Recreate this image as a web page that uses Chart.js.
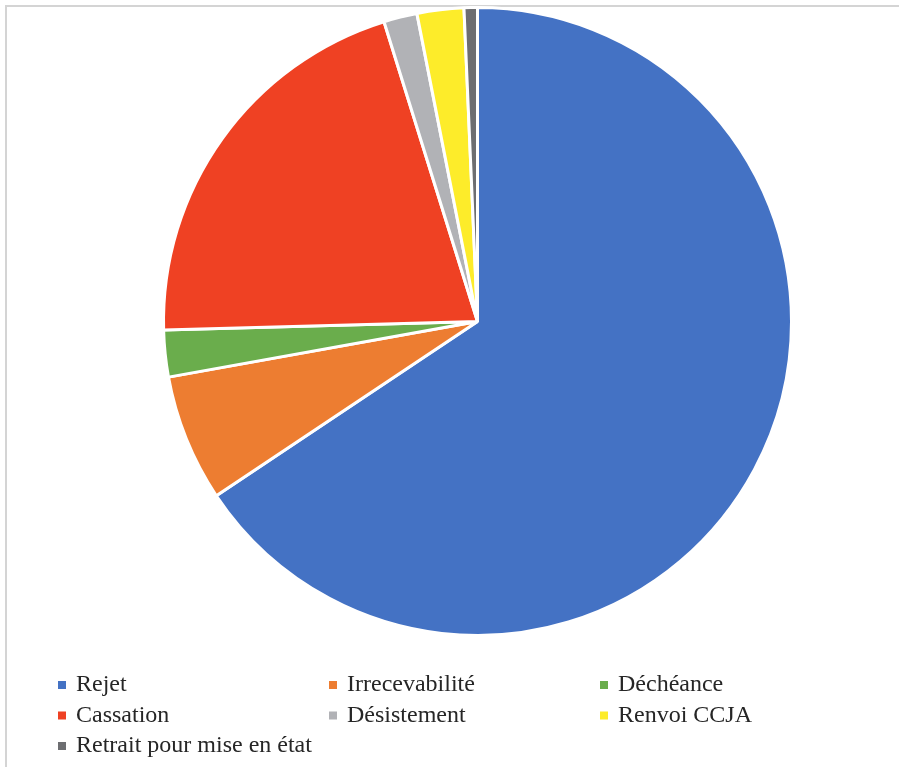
<!DOCTYPE html>
<html lang="fr">
<head>
<meta charset="utf-8">
<title>Décisions</title>
<script src="https://cdn.jsdelivr.net/npm/chart.js@4.4.0/dist/chart.umd.min.js"></script>
<style>
  html, body { margin: 0; padding: 0; background: #fff; }
  #frame {
    position: relative;
    width: 899px;
    height: 767px;
    overflow: hidden;
  }
  #frame::before {
    content: '';
    position: absolute;
    left: 5px; top: 5px; right: -10px; bottom: -10px;
    border-left: 2px solid #d4d4d4;
    border-top: 2px solid #d4d4d4;
  }
  #chartBox { position: absolute; left: 0; top: 0; width: 899px; height: 767px; }
</style>
</head>
<body>
<div id="frame">
  <div id="chartBox"><canvas id="decisionsChart"></canvas></div>
</div>
<script>
const labels = ['Rejet', 'Irrecevabilité', 'Déchéance', 'Cassation', 'Désistement', 'Renvoi CCJA', 'Retrait pour mise en état'];
const counts = [191, 19, 7, 60, 5, 7, 2];
const colors = ['#4472c4', '#ed7d31', '#6aad4c', '#ef4123', '#b1b2b6', '#fdec2a', '#6d6e71'];

// legend in three columns under the pie, drawn on the same canvas
const gridLegend = {
  id: 'gridLegend',
  afterDraw(chart) {
    const ctx = chart.ctx;
    const colX = [58, 329, 600];
    const rowY = [685, 715.5, 746];
    ctx.save();
    ctx.font = '24px "Liberation Serif", "Times New Roman", "DejaVu Serif", serif';
    ctx.textBaseline = 'middle';
    chart.data.labels.forEach((label, i) => {
      const x = colX[i % 3];
      const y = rowY[Math.floor(i / 3)];
      ctx.fillStyle = colors[i];
      ctx.fillRect(x, y - 4, 8, 8);
      ctx.fillStyle = '#262626';
      ctx.fillText(label, x + 18, y);
    });
    ctx.restore();
  },
};

function renderChart() {
  const ctx = document.getElementById('decisionsChart').getContext('2d');
  new Chart(ctx, {
    type: 'pie',
    data: {
      labels: labels,
      datasets: [
        {
          data: counts,
          backgroundColor: colors,
          borderColor: '#ffffff',
          borderWidth: 3,
          hoverOffset: 0,
        },
      ],
    },
    options: {
      responsive: true,
      maintainAspectRatio: false,
      animation: false,
      layout: { padding: { left: 162, right: 106, top: 6, bottom: 130 } },
      plugins: {
        legend: { display: false },
        tooltip: { enabled: false },
      },
    },
    plugins: [gridLegend],
  });
}

renderChart();
</script>
</body>
</html>
